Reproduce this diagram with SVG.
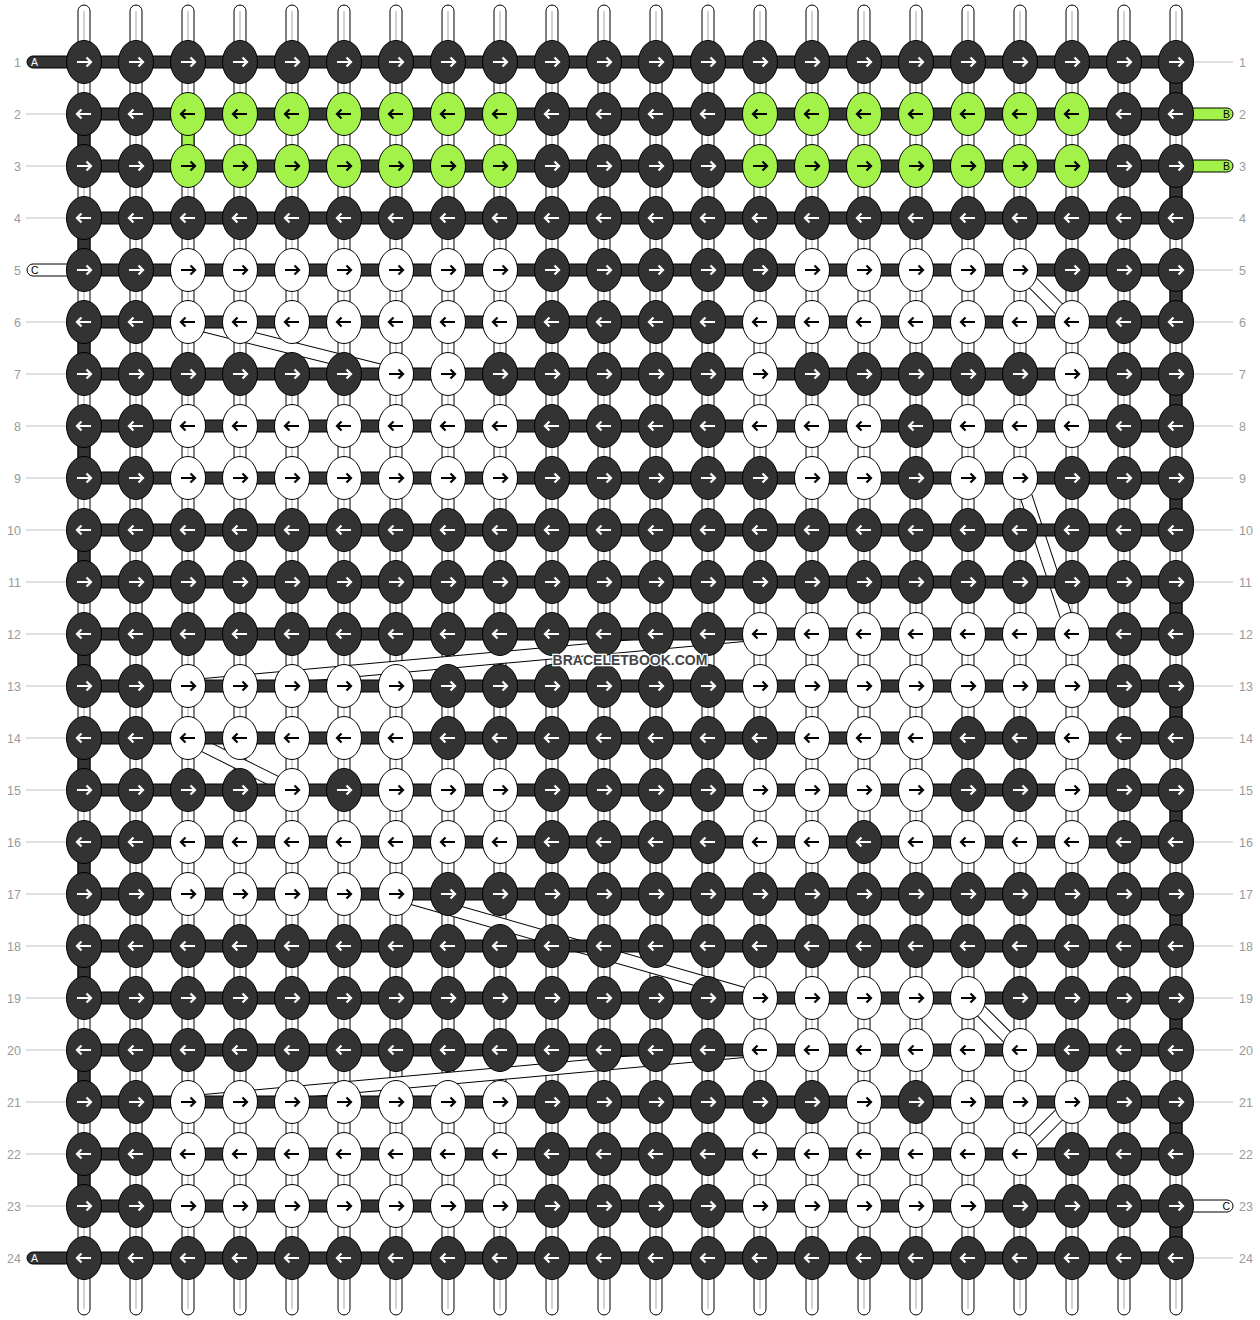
<svg xmlns="http://www.w3.org/2000/svg" xmlns:xlink="http://www.w3.org/1999/xlink" width="1260" height="1320" viewBox="0 0 1260 1320">
<style>
.vs rect{fill:#fff;stroke:#000;stroke-width:1}
.vs line{stroke:#c4c4c4;stroke-width:1.5}
.hs{fill:#333;stroke:#000;stroke-width:1}
.ta{fill:#333;stroke:#000;stroke-width:1}
.tg{fill:#a3f24a;stroke:#000;stroke-width:1}
.sw{fill:#fff;stroke:#000;stroke-width:1}
.kd{fill:#333;stroke:#000;stroke-width:1}
.kw{fill:#fff;stroke:#000;stroke-width:1}
.kg{fill:#a3f24a;stroke:#000;stroke-width:1}
.aw{fill:none;stroke:#fff;stroke-width:2.2}
.ab{fill:none;stroke:#000;stroke-width:2.2}
.gl{stroke:#c0c0c0;stroke-width:1}
.num{font-family:"Liberation Sans",Arial,sans-serif;font-size:12.5px;fill:#9a9a9a}
.lab{font-family:"Liberation Sans",Arial,sans-serif;font-size:10.5px}
.dgb{fill:none;stroke:#000;stroke-width:13}
.dgw{fill:none;stroke:#fff;stroke-width:11}
.wm{font-family:"Liberation Sans",Arial,sans-serif;font-size:14px;font-weight:bold;fill:#444;stroke:#fff;stroke-width:2.5;paint-order:stroke}
</style>
<defs>
<g id="vstr" class="vs"><rect x="-6" y="5" width="12" height="1310" rx="6"/><line x1="0" y1="11" x2="0" y2="1309"/></g>
<g id="DR"><ellipse rx="17.5" ry="21.5" class="kd"/><path d="M-7,0H7M2.5,-4.5L7,0L2.5,4.5" class="aw"/></g>
<g id="DL"><ellipse rx="17.5" ry="21.5" class="kd"/><path d="M7,0H-7M-2.5,-4.5L-7,0L-2.5,4.5" class="aw"/></g>
<g id="WR"><ellipse rx="17.5" ry="21.5" class="kw"/><path d="M-7,0H7M2.5,-4.5L7,0L2.5,4.5" class="ab"/></g>
<g id="WL"><ellipse rx="17.5" ry="21.5" class="kw"/><path d="M7,0H-7M-2.5,-4.5L-7,0L-2.5,4.5" class="ab"/></g>
<g id="GR"><ellipse rx="17.5" ry="21.5" class="kg"/><path d="M-7,0H7M2.5,-4.5L7,0L2.5,4.5" class="ab"/></g>
<g id="GL"><ellipse rx="17.5" ry="21.5" class="kg"/><path d="M7,0H-7M-2.5,-4.5L-7,0L-2.5,4.5" class="ab"/></g>
<path id="diag" d="M188,322L396,374M1020,270L1072,322M1020,478L1072,634M760,634L188,686M188,738L292,790M396,894L760,998M968,998L1020,1050M760,1050L188,1102M1072,1102L1020,1154"/>
</defs>
<rect width="1260" height="1320" fill="#fff"/>
<g id="connectors">
<g id="vertical-strings">
<use href="#vstr" x="84"/><use href="#vstr" x="136"/><use href="#vstr" x="188"/><use href="#vstr" x="240"/><use href="#vstr" x="292"/><use href="#vstr" x="344"/><use href="#vstr" x="396"/><use href="#vstr" x="448"/><use href="#vstr" x="500"/><use href="#vstr" x="552"/><use href="#vstr" x="604"/><use href="#vstr" x="656"/><use href="#vstr" x="708"/><use href="#vstr" x="760"/><use href="#vstr" x="812"/><use href="#vstr" x="864"/><use href="#vstr" x="916"/><use href="#vstr" x="968"/><use href="#vstr" x="1020"/><use href="#vstr" x="1072"/><use href="#vstr" x="1124"/><use href="#vstr" x="1176"/>
</g>
<g id="row-guides">
<line class="gl" x1="26" y1="114" x2="67" y2="114"/><line class="gl" x1="26" y1="166" x2="67" y2="166"/><line class="gl" x1="26" y1="218" x2="67" y2="218"/><line class="gl" x1="26" y1="322" x2="67" y2="322"/><line class="gl" x1="26" y1="374" x2="67" y2="374"/><line class="gl" x1="26" y1="426" x2="67" y2="426"/><line class="gl" x1="26" y1="478" x2="67" y2="478"/><line class="gl" x1="26" y1="530" x2="67" y2="530"/><line class="gl" x1="26" y1="582" x2="67" y2="582"/><line class="gl" x1="26" y1="634" x2="67" y2="634"/><line class="gl" x1="26" y1="686" x2="67" y2="686"/><line class="gl" x1="26" y1="738" x2="67" y2="738"/><line class="gl" x1="26" y1="790" x2="67" y2="790"/><line class="gl" x1="26" y1="842" x2="67" y2="842"/><line class="gl" x1="26" y1="894" x2="67" y2="894"/><line class="gl" x1="26" y1="946" x2="67" y2="946"/><line class="gl" x1="26" y1="998" x2="67" y2="998"/><line class="gl" x1="26" y1="1050" x2="67" y2="1050"/><line class="gl" x1="26" y1="1102" x2="67" y2="1102"/><line class="gl" x1="26" y1="1154" x2="67" y2="1154"/><line class="gl" x1="26" y1="1206" x2="67" y2="1206"/>
<line class="gl" x1="1193" y1="62" x2="1233" y2="62"/><line class="gl" x1="1193" y1="218" x2="1233" y2="218"/><line class="gl" x1="1193" y1="270" x2="1233" y2="270"/><line class="gl" x1="1193" y1="322" x2="1233" y2="322"/><line class="gl" x1="1193" y1="374" x2="1233" y2="374"/><line class="gl" x1="1193" y1="426" x2="1233" y2="426"/><line class="gl" x1="1193" y1="478" x2="1233" y2="478"/><line class="gl" x1="1193" y1="530" x2="1233" y2="530"/><line class="gl" x1="1193" y1="582" x2="1233" y2="582"/><line class="gl" x1="1193" y1="634" x2="1233" y2="634"/><line class="gl" x1="1193" y1="686" x2="1233" y2="686"/><line class="gl" x1="1193" y1="738" x2="1233" y2="738"/><line class="gl" x1="1193" y1="790" x2="1233" y2="790"/><line class="gl" x1="1193" y1="842" x2="1233" y2="842"/><line class="gl" x1="1193" y1="894" x2="1233" y2="894"/><line class="gl" x1="1193" y1="946" x2="1233" y2="946"/><line class="gl" x1="1193" y1="998" x2="1233" y2="998"/><line class="gl" x1="1193" y1="1050" x2="1233" y2="1050"/><line class="gl" x1="1193" y1="1102" x2="1233" y2="1102"/><line class="gl" x1="1193" y1="1154" x2="1233" y2="1154"/><line class="gl" x1="1193" y1="1258" x2="1233" y2="1258"/>
</g>
<g id="carried-strings">
<use href="#diag" class="dgb"/><use href="#diag" class="dgw"/>
</g>
<g id="horizontal-strings">
<rect class="hs" x="27" y="56" width="1149" height="12" rx="6"/>
<rect class="hs" x="84" y="108" width="1092" height="12"/>
<rect class="hs" x="84" y="160" width="1092" height="12"/>
<rect class="hs" x="84" y="212" width="1092" height="12"/>
<rect class="hs" x="84" y="264" width="1092" height="12"/>
<rect class="hs" x="84" y="316" width="1092" height="12"/>
<rect class="hs" x="84" y="368" width="1092" height="12"/>
<rect class="hs" x="84" y="420" width="1092" height="12"/>
<rect class="hs" x="84" y="472" width="1092" height="12"/>
<rect class="hs" x="84" y="524" width="1092" height="12"/>
<rect class="hs" x="84" y="576" width="1092" height="12"/>
<rect class="hs" x="84" y="628" width="1092" height="12"/>
<rect class="hs" x="84" y="680" width="1092" height="12"/>
<rect class="hs" x="84" y="732" width="1092" height="12"/>
<rect class="hs" x="84" y="784" width="1092" height="12"/>
<rect class="hs" x="84" y="836" width="1092" height="12"/>
<rect class="hs" x="84" y="888" width="1092" height="12"/>
<rect class="hs" x="84" y="940" width="1092" height="12"/>
<rect class="hs" x="84" y="992" width="1092" height="12"/>
<rect class="hs" x="84" y="1044" width="1092" height="12"/>
<rect class="hs" x="84" y="1096" width="1092" height="12"/>
<rect class="hs" x="84" y="1148" width="1092" height="12"/>
<rect class="hs" x="84" y="1200" width="1092" height="12"/>
<rect class="hs" x="27" y="1252" width="1149" height="12" rx="6"/>
</g>
<g id="turnarounds">
<rect class="ta" x="1170" y="62" width="12" height="52"/><rect class="ta" x="1170" y="166" width="12" height="52"/><rect class="ta" x="1170" y="270" width="12" height="52"/><rect class="ta" x="1170" y="374" width="12" height="52"/><rect class="ta" x="1170" y="478" width="12" height="52"/><rect class="ta" x="1170" y="582" width="12" height="52"/><rect class="ta" x="1170" y="686" width="12" height="52"/><rect class="ta" x="1170" y="790" width="12" height="52"/><rect class="ta" x="1170" y="894" width="12" height="52"/><rect class="ta" x="1170" y="998" width="12" height="52"/><rect class="ta" x="1170" y="1102" width="12" height="52"/><rect class="ta" x="1170" y="1206" width="12" height="52"/>
<rect class="ta" x="78" y="114" width="12" height="52"/><rect class="ta" x="78" y="218" width="12" height="52"/><rect class="ta" x="78" y="322" width="12" height="52"/><rect class="ta" x="78" y="426" width="12" height="52"/><rect class="ta" x="78" y="530" width="12" height="52"/><rect class="ta" x="78" y="634" width="12" height="52"/><rect class="ta" x="78" y="738" width="12" height="52"/><rect class="ta" x="78" y="842" width="12" height="52"/><rect class="ta" x="78" y="946" width="12" height="52"/><rect class="ta" x="78" y="1050" width="12" height="52"/><rect class="ta" x="78" y="1154" width="12" height="52"/>
<rect class="tg" x="182" y="114" width="12" height="52"/>
</g>
<g id="stubs">
<rect class="sw" x="27" y="264" width="50" height="12" rx="6"/>
<rect class="tg" x="1170" y="108" width="63" height="12" rx="6"/>
<rect class="tg" x="1170" y="160" width="63" height="12" rx="6"/>
<rect class="sw" x="1170" y="1200" width="63" height="12" rx="6"/>
</g>
</g>
<g id="knots">
<g id="r1"><use href="#DR" x="84" y="62"/><use href="#DR" x="136" y="62"/><use href="#DR" x="188" y="62"/><use href="#DR" x="240" y="62"/><use href="#DR" x="292" y="62"/><use href="#DR" x="344" y="62"/><use href="#DR" x="396" y="62"/><use href="#DR" x="448" y="62"/><use href="#DR" x="500" y="62"/><use href="#DR" x="552" y="62"/><use href="#DR" x="604" y="62"/><use href="#DR" x="656" y="62"/><use href="#DR" x="708" y="62"/><use href="#DR" x="760" y="62"/><use href="#DR" x="812" y="62"/><use href="#DR" x="864" y="62"/><use href="#DR" x="916" y="62"/><use href="#DR" x="968" y="62"/><use href="#DR" x="1020" y="62"/><use href="#DR" x="1072" y="62"/><use href="#DR" x="1124" y="62"/><use href="#DR" x="1176" y="62"/></g>
<g id="r2"><use href="#DL" x="84" y="114"/><use href="#DL" x="136" y="114"/><use href="#GL" x="188" y="114"/><use href="#GL" x="240" y="114"/><use href="#GL" x="292" y="114"/><use href="#GL" x="344" y="114"/><use href="#GL" x="396" y="114"/><use href="#GL" x="448" y="114"/><use href="#GL" x="500" y="114"/><use href="#DL" x="552" y="114"/><use href="#DL" x="604" y="114"/><use href="#DL" x="656" y="114"/><use href="#DL" x="708" y="114"/><use href="#GL" x="760" y="114"/><use href="#GL" x="812" y="114"/><use href="#GL" x="864" y="114"/><use href="#GL" x="916" y="114"/><use href="#GL" x="968" y="114"/><use href="#GL" x="1020" y="114"/><use href="#GL" x="1072" y="114"/><use href="#DL" x="1124" y="114"/><use href="#DL" x="1176" y="114"/></g>
<g id="r3"><use href="#DR" x="84" y="166"/><use href="#DR" x="136" y="166"/><use href="#GR" x="188" y="166"/><use href="#GR" x="240" y="166"/><use href="#GR" x="292" y="166"/><use href="#GR" x="344" y="166"/><use href="#GR" x="396" y="166"/><use href="#GR" x="448" y="166"/><use href="#GR" x="500" y="166"/><use href="#DR" x="552" y="166"/><use href="#DR" x="604" y="166"/><use href="#DR" x="656" y="166"/><use href="#DR" x="708" y="166"/><use href="#GR" x="760" y="166"/><use href="#GR" x="812" y="166"/><use href="#GR" x="864" y="166"/><use href="#GR" x="916" y="166"/><use href="#GR" x="968" y="166"/><use href="#GR" x="1020" y="166"/><use href="#GR" x="1072" y="166"/><use href="#DR" x="1124" y="166"/><use href="#DR" x="1176" y="166"/></g>
<g id="r4"><use href="#DL" x="84" y="218"/><use href="#DL" x="136" y="218"/><use href="#DL" x="188" y="218"/><use href="#DL" x="240" y="218"/><use href="#DL" x="292" y="218"/><use href="#DL" x="344" y="218"/><use href="#DL" x="396" y="218"/><use href="#DL" x="448" y="218"/><use href="#DL" x="500" y="218"/><use href="#DL" x="552" y="218"/><use href="#DL" x="604" y="218"/><use href="#DL" x="656" y="218"/><use href="#DL" x="708" y="218"/><use href="#DL" x="760" y="218"/><use href="#DL" x="812" y="218"/><use href="#DL" x="864" y="218"/><use href="#DL" x="916" y="218"/><use href="#DL" x="968" y="218"/><use href="#DL" x="1020" y="218"/><use href="#DL" x="1072" y="218"/><use href="#DL" x="1124" y="218"/><use href="#DL" x="1176" y="218"/></g>
<g id="r5"><use href="#DR" x="84" y="270"/><use href="#DR" x="136" y="270"/><use href="#WR" x="188" y="270"/><use href="#WR" x="240" y="270"/><use href="#WR" x="292" y="270"/><use href="#WR" x="344" y="270"/><use href="#WR" x="396" y="270"/><use href="#WR" x="448" y="270"/><use href="#WR" x="500" y="270"/><use href="#DR" x="552" y="270"/><use href="#DR" x="604" y="270"/><use href="#DR" x="656" y="270"/><use href="#DR" x="708" y="270"/><use href="#DR" x="760" y="270"/><use href="#WR" x="812" y="270"/><use href="#WR" x="864" y="270"/><use href="#WR" x="916" y="270"/><use href="#WR" x="968" y="270"/><use href="#WR" x="1020" y="270"/><use href="#DR" x="1072" y="270"/><use href="#DR" x="1124" y="270"/><use href="#DR" x="1176" y="270"/></g>
<g id="r6"><use href="#DL" x="84" y="322"/><use href="#DL" x="136" y="322"/><use href="#WL" x="188" y="322"/><use href="#WL" x="240" y="322"/><use href="#WL" x="292" y="322"/><use href="#WL" x="344" y="322"/><use href="#WL" x="396" y="322"/><use href="#WL" x="448" y="322"/><use href="#WL" x="500" y="322"/><use href="#DL" x="552" y="322"/><use href="#DL" x="604" y="322"/><use href="#DL" x="656" y="322"/><use href="#DL" x="708" y="322"/><use href="#WL" x="760" y="322"/><use href="#WL" x="812" y="322"/><use href="#WL" x="864" y="322"/><use href="#WL" x="916" y="322"/><use href="#WL" x="968" y="322"/><use href="#WL" x="1020" y="322"/><use href="#WL" x="1072" y="322"/><use href="#DL" x="1124" y="322"/><use href="#DL" x="1176" y="322"/></g>
<g id="r7"><use href="#DR" x="84" y="374"/><use href="#DR" x="136" y="374"/><use href="#DR" x="188" y="374"/><use href="#DR" x="240" y="374"/><use href="#DR" x="292" y="374"/><use href="#DR" x="344" y="374"/><use href="#WR" x="396" y="374"/><use href="#WR" x="448" y="374"/><use href="#DR" x="500" y="374"/><use href="#DR" x="552" y="374"/><use href="#DR" x="604" y="374"/><use href="#DR" x="656" y="374"/><use href="#DR" x="708" y="374"/><use href="#WR" x="760" y="374"/><use href="#DR" x="812" y="374"/><use href="#DR" x="864" y="374"/><use href="#DR" x="916" y="374"/><use href="#DR" x="968" y="374"/><use href="#DR" x="1020" y="374"/><use href="#WR" x="1072" y="374"/><use href="#DR" x="1124" y="374"/><use href="#DR" x="1176" y="374"/></g>
<g id="r8"><use href="#DL" x="84" y="426"/><use href="#DL" x="136" y="426"/><use href="#WL" x="188" y="426"/><use href="#WL" x="240" y="426"/><use href="#WL" x="292" y="426"/><use href="#WL" x="344" y="426"/><use href="#WL" x="396" y="426"/><use href="#WL" x="448" y="426"/><use href="#WL" x="500" y="426"/><use href="#DL" x="552" y="426"/><use href="#DL" x="604" y="426"/><use href="#DL" x="656" y="426"/><use href="#DL" x="708" y="426"/><use href="#WL" x="760" y="426"/><use href="#WL" x="812" y="426"/><use href="#WL" x="864" y="426"/><use href="#DL" x="916" y="426"/><use href="#WL" x="968" y="426"/><use href="#WL" x="1020" y="426"/><use href="#WL" x="1072" y="426"/><use href="#DL" x="1124" y="426"/><use href="#DL" x="1176" y="426"/></g>
<g id="r9"><use href="#DR" x="84" y="478"/><use href="#DR" x="136" y="478"/><use href="#WR" x="188" y="478"/><use href="#WR" x="240" y="478"/><use href="#WR" x="292" y="478"/><use href="#WR" x="344" y="478"/><use href="#WR" x="396" y="478"/><use href="#WR" x="448" y="478"/><use href="#WR" x="500" y="478"/><use href="#DR" x="552" y="478"/><use href="#DR" x="604" y="478"/><use href="#DR" x="656" y="478"/><use href="#DR" x="708" y="478"/><use href="#DR" x="760" y="478"/><use href="#WR" x="812" y="478"/><use href="#WR" x="864" y="478"/><use href="#DR" x="916" y="478"/><use href="#WR" x="968" y="478"/><use href="#WR" x="1020" y="478"/><use href="#DR" x="1072" y="478"/><use href="#DR" x="1124" y="478"/><use href="#DR" x="1176" y="478"/></g>
<g id="r10"><use href="#DL" x="84" y="530"/><use href="#DL" x="136" y="530"/><use href="#DL" x="188" y="530"/><use href="#DL" x="240" y="530"/><use href="#DL" x="292" y="530"/><use href="#DL" x="344" y="530"/><use href="#DL" x="396" y="530"/><use href="#DL" x="448" y="530"/><use href="#DL" x="500" y="530"/><use href="#DL" x="552" y="530"/><use href="#DL" x="604" y="530"/><use href="#DL" x="656" y="530"/><use href="#DL" x="708" y="530"/><use href="#DL" x="760" y="530"/><use href="#DL" x="812" y="530"/><use href="#DL" x="864" y="530"/><use href="#DL" x="916" y="530"/><use href="#DL" x="968" y="530"/><use href="#DL" x="1020" y="530"/><use href="#DL" x="1072" y="530"/><use href="#DL" x="1124" y="530"/><use href="#DL" x="1176" y="530"/></g>
<g id="r11"><use href="#DR" x="84" y="582"/><use href="#DR" x="136" y="582"/><use href="#DR" x="188" y="582"/><use href="#DR" x="240" y="582"/><use href="#DR" x="292" y="582"/><use href="#DR" x="344" y="582"/><use href="#DR" x="396" y="582"/><use href="#DR" x="448" y="582"/><use href="#DR" x="500" y="582"/><use href="#DR" x="552" y="582"/><use href="#DR" x="604" y="582"/><use href="#DR" x="656" y="582"/><use href="#DR" x="708" y="582"/><use href="#DR" x="760" y="582"/><use href="#DR" x="812" y="582"/><use href="#DR" x="864" y="582"/><use href="#DR" x="916" y="582"/><use href="#DR" x="968" y="582"/><use href="#DR" x="1020" y="582"/><use href="#DR" x="1072" y="582"/><use href="#DR" x="1124" y="582"/><use href="#DR" x="1176" y="582"/></g>
<g id="r12"><use href="#DL" x="84" y="634"/><use href="#DL" x="136" y="634"/><use href="#DL" x="188" y="634"/><use href="#DL" x="240" y="634"/><use href="#DL" x="292" y="634"/><use href="#DL" x="344" y="634"/><use href="#DL" x="396" y="634"/><use href="#DL" x="448" y="634"/><use href="#DL" x="500" y="634"/><use href="#DL" x="552" y="634"/><use href="#DL" x="604" y="634"/><use href="#DL" x="656" y="634"/><use href="#DL" x="708" y="634"/><use href="#WL" x="760" y="634"/><use href="#WL" x="812" y="634"/><use href="#WL" x="864" y="634"/><use href="#WL" x="916" y="634"/><use href="#WL" x="968" y="634"/><use href="#WL" x="1020" y="634"/><use href="#WL" x="1072" y="634"/><use href="#DL" x="1124" y="634"/><use href="#DL" x="1176" y="634"/></g>
<g id="r13"><use href="#DR" x="84" y="686"/><use href="#DR" x="136" y="686"/><use href="#WR" x="188" y="686"/><use href="#WR" x="240" y="686"/><use href="#WR" x="292" y="686"/><use href="#WR" x="344" y="686"/><use href="#WR" x="396" y="686"/><use href="#DR" x="448" y="686"/><use href="#DR" x="500" y="686"/><use href="#DR" x="552" y="686"/><use href="#DR" x="604" y="686"/><use href="#DR" x="656" y="686"/><use href="#DR" x="708" y="686"/><use href="#WR" x="760" y="686"/><use href="#WR" x="812" y="686"/><use href="#WR" x="864" y="686"/><use href="#WR" x="916" y="686"/><use href="#WR" x="968" y="686"/><use href="#WR" x="1020" y="686"/><use href="#WR" x="1072" y="686"/><use href="#DR" x="1124" y="686"/><use href="#DR" x="1176" y="686"/></g>
<g id="r14"><use href="#DL" x="84" y="738"/><use href="#DL" x="136" y="738"/><use href="#WL" x="188" y="738"/><use href="#WL" x="240" y="738"/><use href="#WL" x="292" y="738"/><use href="#WL" x="344" y="738"/><use href="#WL" x="396" y="738"/><use href="#DL" x="448" y="738"/><use href="#DL" x="500" y="738"/><use href="#DL" x="552" y="738"/><use href="#DL" x="604" y="738"/><use href="#DL" x="656" y="738"/><use href="#DL" x="708" y="738"/><use href="#DL" x="760" y="738"/><use href="#WL" x="812" y="738"/><use href="#WL" x="864" y="738"/><use href="#WL" x="916" y="738"/><use href="#DL" x="968" y="738"/><use href="#DL" x="1020" y="738"/><use href="#WL" x="1072" y="738"/><use href="#DL" x="1124" y="738"/><use href="#DL" x="1176" y="738"/></g>
<g id="r15"><use href="#DR" x="84" y="790"/><use href="#DR" x="136" y="790"/><use href="#DR" x="188" y="790"/><use href="#DR" x="240" y="790"/><use href="#WR" x="292" y="790"/><use href="#DR" x="344" y="790"/><use href="#WR" x="396" y="790"/><use href="#WR" x="448" y="790"/><use href="#WR" x="500" y="790"/><use href="#DR" x="552" y="790"/><use href="#DR" x="604" y="790"/><use href="#DR" x="656" y="790"/><use href="#DR" x="708" y="790"/><use href="#WR" x="760" y="790"/><use href="#WR" x="812" y="790"/><use href="#WR" x="864" y="790"/><use href="#WR" x="916" y="790"/><use href="#DR" x="968" y="790"/><use href="#DR" x="1020" y="790"/><use href="#WR" x="1072" y="790"/><use href="#DR" x="1124" y="790"/><use href="#DR" x="1176" y="790"/></g>
<g id="r16"><use href="#DL" x="84" y="842"/><use href="#DL" x="136" y="842"/><use href="#WL" x="188" y="842"/><use href="#WL" x="240" y="842"/><use href="#WL" x="292" y="842"/><use href="#WL" x="344" y="842"/><use href="#WL" x="396" y="842"/><use href="#WL" x="448" y="842"/><use href="#WL" x="500" y="842"/><use href="#DL" x="552" y="842"/><use href="#DL" x="604" y="842"/><use href="#DL" x="656" y="842"/><use href="#DL" x="708" y="842"/><use href="#WL" x="760" y="842"/><use href="#WL" x="812" y="842"/><use href="#DL" x="864" y="842"/><use href="#WL" x="916" y="842"/><use href="#WL" x="968" y="842"/><use href="#WL" x="1020" y="842"/><use href="#WL" x="1072" y="842"/><use href="#DL" x="1124" y="842"/><use href="#DL" x="1176" y="842"/></g>
<g id="r17"><use href="#DR" x="84" y="894"/><use href="#DR" x="136" y="894"/><use href="#WR" x="188" y="894"/><use href="#WR" x="240" y="894"/><use href="#WR" x="292" y="894"/><use href="#WR" x="344" y="894"/><use href="#WR" x="396" y="894"/><use href="#DR" x="448" y="894"/><use href="#DR" x="500" y="894"/><use href="#DR" x="552" y="894"/><use href="#DR" x="604" y="894"/><use href="#DR" x="656" y="894"/><use href="#DR" x="708" y="894"/><use href="#DR" x="760" y="894"/><use href="#DR" x="812" y="894"/><use href="#DR" x="864" y="894"/><use href="#DR" x="916" y="894"/><use href="#DR" x="968" y="894"/><use href="#DR" x="1020" y="894"/><use href="#DR" x="1072" y="894"/><use href="#DR" x="1124" y="894"/><use href="#DR" x="1176" y="894"/></g>
<g id="r18"><use href="#DL" x="84" y="946"/><use href="#DL" x="136" y="946"/><use href="#DL" x="188" y="946"/><use href="#DL" x="240" y="946"/><use href="#DL" x="292" y="946"/><use href="#DL" x="344" y="946"/><use href="#DL" x="396" y="946"/><use href="#DL" x="448" y="946"/><use href="#DL" x="500" y="946"/><use href="#DL" x="552" y="946"/><use href="#DL" x="604" y="946"/><use href="#DL" x="656" y="946"/><use href="#DL" x="708" y="946"/><use href="#DL" x="760" y="946"/><use href="#DL" x="812" y="946"/><use href="#DL" x="864" y="946"/><use href="#DL" x="916" y="946"/><use href="#DL" x="968" y="946"/><use href="#DL" x="1020" y="946"/><use href="#DL" x="1072" y="946"/><use href="#DL" x="1124" y="946"/><use href="#DL" x="1176" y="946"/></g>
<g id="r19"><use href="#DR" x="84" y="998"/><use href="#DR" x="136" y="998"/><use href="#DR" x="188" y="998"/><use href="#DR" x="240" y="998"/><use href="#DR" x="292" y="998"/><use href="#DR" x="344" y="998"/><use href="#DR" x="396" y="998"/><use href="#DR" x="448" y="998"/><use href="#DR" x="500" y="998"/><use href="#DR" x="552" y="998"/><use href="#DR" x="604" y="998"/><use href="#DR" x="656" y="998"/><use href="#DR" x="708" y="998"/><use href="#WR" x="760" y="998"/><use href="#WR" x="812" y="998"/><use href="#WR" x="864" y="998"/><use href="#WR" x="916" y="998"/><use href="#WR" x="968" y="998"/><use href="#DR" x="1020" y="998"/><use href="#DR" x="1072" y="998"/><use href="#DR" x="1124" y="998"/><use href="#DR" x="1176" y="998"/></g>
<g id="r20"><use href="#DL" x="84" y="1050"/><use href="#DL" x="136" y="1050"/><use href="#DL" x="188" y="1050"/><use href="#DL" x="240" y="1050"/><use href="#DL" x="292" y="1050"/><use href="#DL" x="344" y="1050"/><use href="#DL" x="396" y="1050"/><use href="#DL" x="448" y="1050"/><use href="#DL" x="500" y="1050"/><use href="#DL" x="552" y="1050"/><use href="#DL" x="604" y="1050"/><use href="#DL" x="656" y="1050"/><use href="#DL" x="708" y="1050"/><use href="#WL" x="760" y="1050"/><use href="#WL" x="812" y="1050"/><use href="#WL" x="864" y="1050"/><use href="#WL" x="916" y="1050"/><use href="#WL" x="968" y="1050"/><use href="#WL" x="1020" y="1050"/><use href="#DL" x="1072" y="1050"/><use href="#DL" x="1124" y="1050"/><use href="#DL" x="1176" y="1050"/></g>
<g id="r21"><use href="#DR" x="84" y="1102"/><use href="#DR" x="136" y="1102"/><use href="#WR" x="188" y="1102"/><use href="#WR" x="240" y="1102"/><use href="#WR" x="292" y="1102"/><use href="#WR" x="344" y="1102"/><use href="#WR" x="396" y="1102"/><use href="#WR" x="448" y="1102"/><use href="#WR" x="500" y="1102"/><use href="#DR" x="552" y="1102"/><use href="#DR" x="604" y="1102"/><use href="#DR" x="656" y="1102"/><use href="#DR" x="708" y="1102"/><use href="#DR" x="760" y="1102"/><use href="#DR" x="812" y="1102"/><use href="#WR" x="864" y="1102"/><use href="#DR" x="916" y="1102"/><use href="#WR" x="968" y="1102"/><use href="#WR" x="1020" y="1102"/><use href="#WR" x="1072" y="1102"/><use href="#DR" x="1124" y="1102"/><use href="#DR" x="1176" y="1102"/></g>
<g id="r22"><use href="#DL" x="84" y="1154"/><use href="#DL" x="136" y="1154"/><use href="#WL" x="188" y="1154"/><use href="#WL" x="240" y="1154"/><use href="#WL" x="292" y="1154"/><use href="#WL" x="344" y="1154"/><use href="#WL" x="396" y="1154"/><use href="#WL" x="448" y="1154"/><use href="#WL" x="500" y="1154"/><use href="#DL" x="552" y="1154"/><use href="#DL" x="604" y="1154"/><use href="#DL" x="656" y="1154"/><use href="#DL" x="708" y="1154"/><use href="#WL" x="760" y="1154"/><use href="#WL" x="812" y="1154"/><use href="#WL" x="864" y="1154"/><use href="#WL" x="916" y="1154"/><use href="#WL" x="968" y="1154"/><use href="#WL" x="1020" y="1154"/><use href="#DL" x="1072" y="1154"/><use href="#DL" x="1124" y="1154"/><use href="#DL" x="1176" y="1154"/></g>
<g id="r23"><use href="#DR" x="84" y="1206"/><use href="#DR" x="136" y="1206"/><use href="#WR" x="188" y="1206"/><use href="#WR" x="240" y="1206"/><use href="#WR" x="292" y="1206"/><use href="#WR" x="344" y="1206"/><use href="#WR" x="396" y="1206"/><use href="#WR" x="448" y="1206"/><use href="#WR" x="500" y="1206"/><use href="#DR" x="552" y="1206"/><use href="#DR" x="604" y="1206"/><use href="#DR" x="656" y="1206"/><use href="#DR" x="708" y="1206"/><use href="#WR" x="760" y="1206"/><use href="#WR" x="812" y="1206"/><use href="#WR" x="864" y="1206"/><use href="#WR" x="916" y="1206"/><use href="#WR" x="968" y="1206"/><use href="#DR" x="1020" y="1206"/><use href="#DR" x="1072" y="1206"/><use href="#DR" x="1124" y="1206"/><use href="#DR" x="1176" y="1206"/></g>
<g id="r24"><use href="#DL" x="84" y="1258"/><use href="#DL" x="136" y="1258"/><use href="#DL" x="188" y="1258"/><use href="#DL" x="240" y="1258"/><use href="#DL" x="292" y="1258"/><use href="#DL" x="344" y="1258"/><use href="#DL" x="396" y="1258"/><use href="#DL" x="448" y="1258"/><use href="#DL" x="500" y="1258"/><use href="#DL" x="552" y="1258"/><use href="#DL" x="604" y="1258"/><use href="#DL" x="656" y="1258"/><use href="#DL" x="708" y="1258"/><use href="#DL" x="760" y="1258"/><use href="#DL" x="812" y="1258"/><use href="#DL" x="864" y="1258"/><use href="#DL" x="916" y="1258"/><use href="#DL" x="968" y="1258"/><use href="#DL" x="1020" y="1258"/><use href="#DL" x="1072" y="1258"/><use href="#DL" x="1124" y="1258"/><use href="#DL" x="1176" y="1258"/></g>
</g>
<g id="string-labels" class="lab">
<text x="31" y="66" fill="#fff">A</text>
<text x="31" y="1262" fill="#fff">A</text>
<text x="31" y="274" fill="#000">C</text>
<text x="1230" y="118" fill="#000" text-anchor="end">B</text>
<text x="1230" y="170" fill="#000" text-anchor="end">B</text>
<text x="1230" y="1210" fill="#000" text-anchor="end">C</text>
</g>
<g id="row-numbers-left" class="num" text-anchor="end">
<text x="21" y="66.5">1</text><text x="21" y="118.5">2</text><text x="21" y="170.5">3</text><text x="21" y="222.5">4</text><text x="21" y="274.5">5</text><text x="21" y="326.5">6</text><text x="21" y="378.5">7</text><text x="21" y="430.5">8</text><text x="21" y="482.5">9</text><text x="21" y="534.5">10</text><text x="21" y="586.5">11</text><text x="21" y="638.5">12</text><text x="21" y="690.5">13</text><text x="21" y="742.5">14</text><text x="21" y="794.5">15</text><text x="21" y="846.5">16</text><text x="21" y="898.5">17</text><text x="21" y="950.5">18</text><text x="21" y="1002.5">19</text><text x="21" y="1054.5">20</text><text x="21" y="1106.5">21</text><text x="21" y="1158.5">22</text><text x="21" y="1210.5">23</text><text x="21" y="1262.5">24</text>
</g>
<g id="row-numbers-right" class="num">
<text x="1239" y="66.5">1</text><text x="1239" y="118.5">2</text><text x="1239" y="170.5">3</text><text x="1239" y="222.5">4</text><text x="1239" y="274.5">5</text><text x="1239" y="326.5">6</text><text x="1239" y="378.5">7</text><text x="1239" y="430.5">8</text><text x="1239" y="482.5">9</text><text x="1239" y="534.5">10</text><text x="1239" y="586.5">11</text><text x="1239" y="638.5">12</text><text x="1239" y="690.5">13</text><text x="1239" y="742.5">14</text><text x="1239" y="794.5">15</text><text x="1239" y="846.5">16</text><text x="1239" y="898.5">17</text><text x="1239" y="950.5">18</text><text x="1239" y="1002.5">19</text><text x="1239" y="1054.5">20</text><text x="1239" y="1106.5">21</text><text x="1239" y="1158.5">22</text><text x="1239" y="1210.5">23</text><text x="1239" y="1262.5">24</text>
</g>
<text id="watermark" class="wm" x="630" y="665" text-anchor="middle">BRACELETBOOK.COM</text>
</svg>
